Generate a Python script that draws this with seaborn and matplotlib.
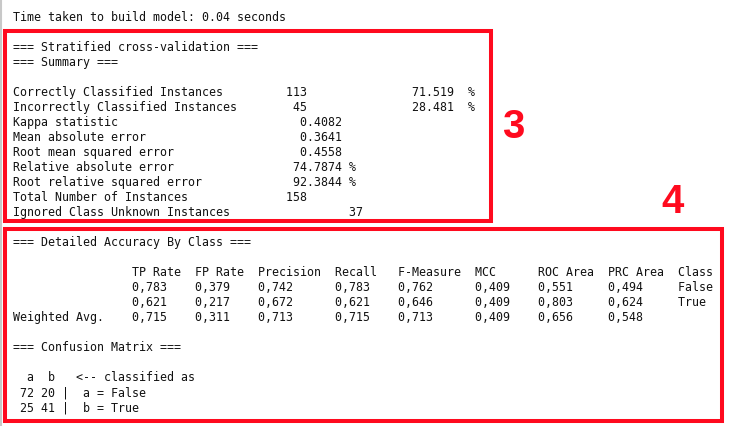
import matplotlib
matplotlib.use("Agg")
import matplotlib.pyplot as plt
import seaborn as sns
from matplotlib.patches import Rectangle

# ---- data ----
build_time = 0.04
summary_labels = ["Correctly Classified Instances", "Incorrectly Classified Instances"]
summary_counts = [113, 45]
summary_pcts = [71.519, 28.481]
error_labels = ["Kappa statistic", "Mean absolute error", "Root mean squared error"]
error_values = ["0.4082", "0.3641", "0.4558"]
rel_labels = ["Relative absolute error", "Root relative squared error"]
rel_values = ["74.7874", "92.3844"]
total_instances = 158
ignored_instances = 37

metric_names = ["TP Rate", "FP Rate", "Precision", "Recall", "F-Measure", "MCC", "ROC Area", "PRC Area", "Class"]
metric_widths = [9, 9, 11, 9, 11, 9, 10, 10, 5]
row_names = ["", "", "Weighted Avg."]
row_values = [
    ["0,783", "0,379", "0,742", "0,783", "0,762", "0,409", "0,551", "0,494", "False"],
    ["0,621", "0,217", "0,672", "0,621", "0,646", "0,409", "0,803", "0,624", "True"],
    ["0,715", "0,311", "0,713", "0,715", "0,713", "0,409", "0,656", "0,548", ""],
]
cm_classes = ["a", "b"]
cm_names = ["False", "True"]
cm_values = [[72, 20], [25, 41]]
box_labels = ["3", "4"]

# ---- build text lines ----
lines = [f"Time taken to build model: {build_time:.2f} seconds", "",
         "=== Stratified cross-validation ===", "=== Summary ===", ""]
for lab, c, p in zip(summary_labels, summary_counts, summary_pcts):
    lines.append(f"{lab:<39}{c:>3}{'':15}{p:6.3f}  %")
for lab, v in zip(error_labels, error_values):
    lines.append(f"{lab:<40}{v:>7}")
for lab, v in zip(rel_labels, rel_values):
    lines.append(f"{lab:<40}{v:>7} %")
lines.append(f"{'Total Number of Instances':<39}{total_instances}")
lines.append(f"{'Ignored Class Unknown Instances':<48}{ignored_instances}")
lines.append("")
lines.append("=== Detailed Accuracy By Class ===")
lines.append("")
lines.append(" " * 17 + "".join(f"{m:<{w}}" for m, w in zip(metric_names, metric_widths)))
for rn, vals in zip(row_names, row_values):
    lines.append(f"{rn:<17}" + "".join(f"{v:<{w}}" for v, w in zip(vals, metric_widths)))
lines.append("")
lines.append("=== Confusion Matrix ===")
lines.append("")
lines.append("  " + "  ".join(cm_classes) + "   <-- classified as")
for cls, name, row in zip(cm_classes, cm_names, cm_values):
    lines.append(" " + " ".join(f"{v:>2}" for v in row) + f" |  {cls} = {name}")

# ---- draw ----
sns.set_theme(style="white")
W, H = 735, 427
fig = plt.figure(figsize=(W / 100, H / 100), dpi=100)
ax = fig.add_axes([0, 0, 1, 1])
ax.set_xlim(0, W)
ax.set_ylim(H, 0)
ax.axis("off")
fig.patch.set_facecolor("white")

# window left border
ax.plot([1, 1], [0, H], color="#c8c8c8", lw=1.5)

fs = 7.0 / 0.602 * 0.72  # 7 px per char in DejaVu Sans Mono
for i, line in enumerate(lines):
    if line:
        ax.text(13, 17 + 15 * i + 4.2, line, family="DejaVu Sans Mono", fontsize=fs,
                color="#111111", va="baseline", ha="left")

red = "#ff0a1e"
for (x0, y0, x1, y1) in [(5, 32, 491, 222), (5, 230, 722, 422)]:
    ax.add_patch(Rectangle((x0, y0), x1 - x0, y1 - y0, fill=False, ec=red, lw=2.9,
                           joinstyle="miter"))

for lab, (x, y) in zip(box_labels, [(513, 127), (673, 202)]):
    ax.text(x, y, lab, family="Liberation Sans", weight="bold", fontsize=29,
            color=red, ha="center", va="center")

fig.savefig("out.png", dpi=100, facecolor="white")
